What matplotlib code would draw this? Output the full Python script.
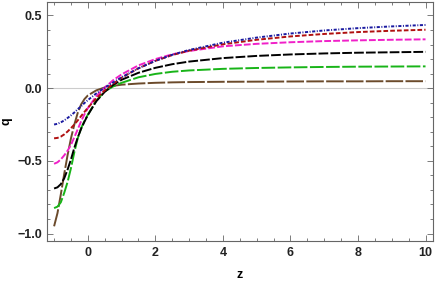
import matplotlib.pyplot as plt
from matplotlib.ticker import MultipleLocator

plt.rcParams.update({
    'font.family': ['Liberation Sans', 'DejaVu Sans'],
    'font.weight': 'bold',
    'font.size': 9,
})

z = [-1, -0.9, -0.8, -0.7, -0.6, -0.5, -0.4, -0.3, -0.2, -0.1, 0, 0.25, 0.5, 0.75,
     1, 1.5, 2, 2.5, 3, 4, 5, 6, 7, 8, 9, 10]

q_blue = [-0.25, -0.245, -0.235, -0.222, -0.205, -0.187, -0.167, -0.145, -0.124, -0.102,
          -0.082, -0.036, 0.003, 0.04, 0.075, 0.137, 0.188, 0.23, 0.263, 0.313, 0.348,
          0.376, 0.397, 0.413, 0.425, 0.435]
q_red = [-0.345, -0.342, -0.333, -0.318, -0.298, -0.275, -0.25, -0.222, -0.192, -0.163,
         -0.135, -0.07, -0.015, 0.03, 0.072, 0.137, 0.188, 0.228, 0.258, 0.302, 0.333,
         0.356, 0.373, 0.386, 0.395, 0.402]
q_magenta = [-0.52, -0.51, -0.49, -0.462, -0.43, -0.39, -0.337, -0.283, -0.228, -0.18,
             -0.137, -0.055, 0.005, 0.055, 0.095, 0.157, 0.2, 0.233, 0.256, 0.288, 0.305,
             0.316, 0.324, 0.329, 0.333, 0.336]
q_black = [-0.69, -0.682, -0.66, -0.62, -0.56, -0.49, -0.41, -0.34, -0.28, -0.23,
           -0.185, -0.09, -0.025, 0.022, 0.058, 0.106, 0.14, 0.165, 0.183, 0.207, 0.222,
           0.232, 0.239, 0.244, 0.247, 0.25]
q_green = [-0.825, -0.815, -0.785, -0.72, -0.645, -0.55, -0.44, -0.345, -0.275, -0.225,
           -0.182, -0.085, -0.022, 0.012, 0.037, 0.075, 0.098, 0.113, 0.122, 0.133, 0.139,
           0.143, 0.146, 0.148, 0.149, 0.15]
q_brown = [-0.95, -0.86, -0.73, -0.59, -0.46, -0.345, -0.25, -0.17, -0.112, -0.075,
           -0.05, -0.015, 0.005, 0.016, 0.024, 0.032, 0.037, 0.04, 0.042, 0.044, 0.045,
           0.046, 0.047, 0.047, 0.048, 0.048]

fig = plt.figure(figsize=(4.36, 2.82), dpi=100)
ax = fig.add_axes([0.107, 0.146, 0.886, 0.847])

ax.axhline(0, color='#cccccc', linewidth=0.8, zorder=1)

lw = 1.4
ax.plot(z, q_brown, color='#6b4a2b', linewidth=lw, dashes=(9, 1.2))
ax.plot(z, q_green, color='#18b418', linewidth=lw, dashes=(7, 1.3))
ax.plot(z, q_black, color='black', linewidth=lw, dashes=(5, 1.1))
ax.plot(z, q_magenta, color='#f020c8', linewidth=lw, dashes=(3.5, 1.1))
ax.plot(z, q_red, color='#b01010', linewidth=lw, dashes=(2.4, 1.1))
ax.plot(z, q_blue, color='#1a1aa0', linewidth=lw, dashes=(1.6, 0.8, 0.5, 0.8))

ax.set_xlim(-1.22, 10.22)
ax.set_ylim(-1.05, 0.593)
ax.xaxis.set_major_locator(MultipleLocator(2))
ax.xaxis.set_minor_locator(MultipleLocator(0.5))
ax.yaxis.set_major_locator(MultipleLocator(0.5))
ax.yaxis.set_minor_locator(MultipleLocator(0.1))
ax.tick_params(which='both', direction='in', top=True, right=True, color='#666666',
               labelcolor='#222222', width=0.6)
ax.tick_params(which='major', length=4)
ax.tick_params(which='minor', length=2.2)
ax.tick_params(axis='x', which='major', pad=4.5)
ax.tick_params(axis='y', which='major', pad=3)
for s in ax.spines.values():
    s.set_color('#666666')
    s.set_linewidth(0.8)

ax.set_xlabel('z', fontweight='bold', fontsize=9, labelpad=7)
ax.set_ylabel('q', fontweight='bold', fontsize=9, labelpad=4)

fig.savefig('out.png', dpi=100)
